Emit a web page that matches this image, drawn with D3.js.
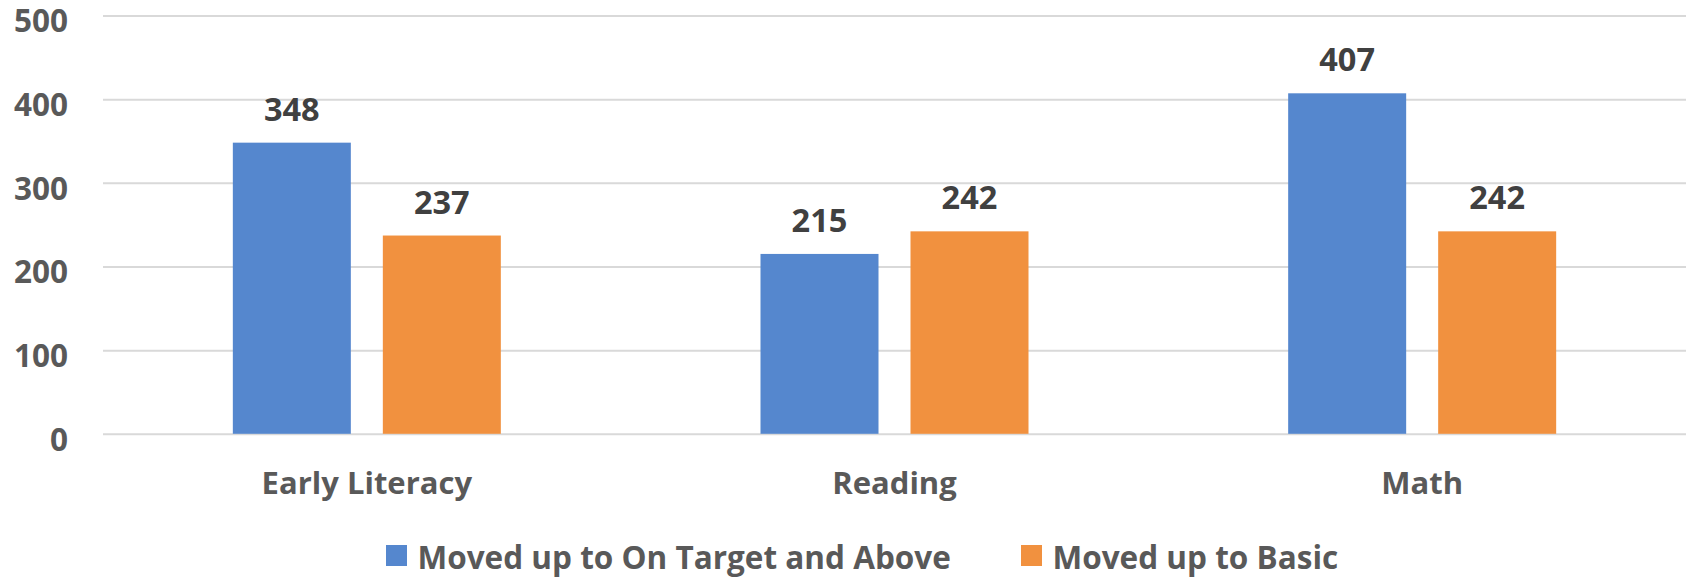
<!DOCTYPE html>
<html>
<head>
<meta charset="utf-8">
<script src="https://cdn.jsdelivr.net/npm/d3@7"></script>
<style>
html,body{margin:0;padding:0;background:#fff;}
svg{display:block;}
text{font-family:"Open Sans",sans-serif;font-weight:700;}
</style>
</head>
<body>
<svg id="chart" width="1688" height="577"></svg>
<script>
const categories = ["Early Literacy", "Reading", "Math"];
const seriesNames = ["Moved up to On Target and Above", "Moved up to Basic"];
const onTarget = [348, 215, 407];
const basic = [237, 242, 242];
const yTicks = [0, 100, 200, 300, 400, 500];
const colors = ["#5587ce", "#f1913f"];

(function () {
const seriesValues = [onTarget, basic];
const svg = d3.select("#chart");
const mLeft = 103, mRight = 1686, mTop = 15.5, mBottom = 433.8;

const y = d3.scaleLinear().domain([0, 500]).range([mBottom, mTop]);
const x0 = d3.scaleBand().domain(categories).range([mLeft, mRight]).paddingInner(0).paddingOuter(0);
const groupW = 268;
const x1 = d3.scaleBand().domain(seriesNames)
  .range([(x0.bandwidth() - groupW) / 2, (x0.bandwidth() + groupW) / 2])
  .paddingInner(32 / 150).paddingOuter(0);

// gridlines
const grid = d3.axisLeft(y).tickValues(yTicks).tickSize(-(mRight - mLeft)).tickFormat("");
const gg = svg.append("g").attr("transform", `translate(${mLeft},0)`).call(grid);
gg.select(".domain").remove();
gg.selectAll("line").attr("stroke", "#d9d9d9").attr("stroke-width", 2);

// y labels
const ya = d3.axisLeft(y).tickValues(yTicks).tickSize(0).tickPadding(0);
const yg = svg.append("g").attr("transform", `translate(68,0)`).call(ya);
yg.select(".domain").remove();
yg.selectAll("text").attr("fill", "#595959").attr("font-size", 31.5).attr("font-family", "Open Sans").attr("font-weight", 700).attr("dy", 16.3);

// bars
const groups = svg.append("g").selectAll("g").data(categories).join("g")
  .attr("transform", d => `translate(${x0(d)},0)`);
groups.selectAll("rect")
  .data((d, i) => seriesNames.map((s, j) => ({s, j, v: seriesValues[j][i]})))
  .join("rect")
  .attr("x", d => x1(d.s))
  .attr("width", x1.bandwidth())
  .attr("y", d => y(d.v))
  .attr("height", d => y(0) - y(d.v))
  .attr("fill", d => colors[d.j]);
groups.selectAll("text.val")
  .data((d, i) => seriesNames.map((s, j) => ({s, j, v: seriesValues[j][i]})))
  .join("text").attr("class", "val")
  .attr("x", d => x1(d.s) + x1.bandwidth() / 2)
  .attr("y", d => y(d.v) - 22)
  .attr("text-anchor", "middle")
  .attr("fill", "#404040").attr("font-size", 32.5)
  .text(d => d.v);

// x axis labels
const xa = d3.axisBottom(x0).tickSize(0).tickPadding(0);
const xg = svg.append("g").attr("transform", `translate(0,494.3)`).call(xa);
xg.select(".domain").remove();
xg.selectAll("text").attr("fill", "#595959").attr("font-size", 31).attr("font-family", "Open Sans").attr("font-weight", 700).attr("dy", 0);

// legend
const legendX = [386, 1021];
const lg = svg.append("g").selectAll("g").data(seriesNames).join("g")
  .attr("transform", (d, i) => `translate(${legendX[i]},545)`);
lg.append("rect").attr("width", 21).attr("height", 21).attr("fill", (d, i) => colors[i]);
lg.append("text").attr("x", 31.5).attr("y", 23.5)
  .attr("fill", "#595959").attr("font-size", 31.5).text(d => d);
})();
</script>
</body>
</html>
